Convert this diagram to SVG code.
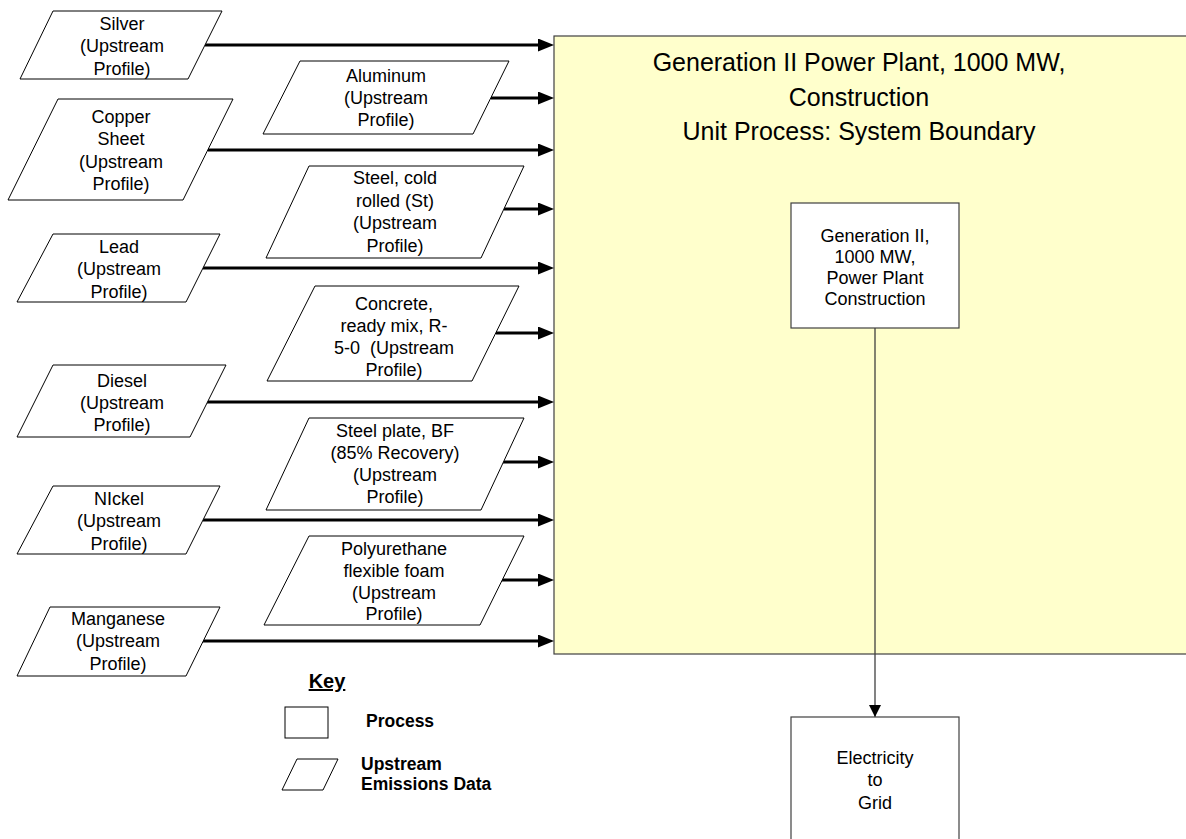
<svg xmlns="http://www.w3.org/2000/svg" width="1186" height="839" viewBox="0 0 1186 839">
<style>
.t{font-family:"Liberation Sans",Arial,sans-serif;font-size:18px;fill:#000;text-anchor:middle}
.title{font-family:"Liberation Sans",Arial,sans-serif;font-size:25px;fill:#000;text-anchor:middle}
.kb{font-family:"Liberation Sans",Arial,sans-serif;font-size:17.5px;font-weight:bold;fill:#000}
.para{fill:#fff;stroke:#000;stroke-width:1}
.box{fill:#fff;stroke:#404040;stroke-width:1.2}
.arr{stroke:#000;stroke-width:3;fill:none;marker-end:url(#ah)}
.thin{stroke:#404040;stroke-width:1.3;fill:none;marker-end:url(#ah2)}
</style>
<defs>
<marker id="ah" viewBox="0 0 16 13" refX="7" refY="6.5" markerWidth="16" markerHeight="13" markerUnits="userSpaceOnUse" orient="auto">
<path d="M0,0 L16,6.5 L0,13 Z" fill="#000"/>
</marker>
<marker id="ah2" viewBox="0 0 12 12" refX="12" refY="6" markerWidth="12" markerHeight="12" markerUnits="userSpaceOnUse" orient="auto">
<path d="M0,0 L12,6 L0,12 Z" fill="#000"/>
</marker>
</defs>
<rect width="1186" height="839" fill="#fff"/>

<g id="boundary">
<rect x="554" y="36" width="640" height="618" fill="#FFFFCC" stroke="#404040" stroke-width="1.2"/>
<text class="title" x="859"><tspan x="859" y="71">Generation II Power Plant, 1000 MW,</tspan><tspan x="859" y="105.5">Construction</tspan><tspan x="859" y="140">Unit Process: System Boundary</tspan></text>
</g>

<g id="connectors">
<line class="arr" x1="205" y1="45" x2="545" y2="45"/>
<line class="arr" x1="491" y1="98" x2="545" y2="98"/>
<line class="arr" x1="208" y1="150" x2="545" y2="150"/>
<line class="arr" x1="504" y1="209" x2="545" y2="209"/>
<line class="arr" x1="203" y1="268" x2="545" y2="268"/>
<line class="arr" x1="496" y1="333" x2="545" y2="333"/>
<line class="arr" x1="207" y1="402" x2="545" y2="402"/>
<line class="arr" x1="503" y1="462" x2="545" y2="462"/>
<line class="arr" x1="203" y1="520" x2="545" y2="520"/>
<line class="arr" x1="502" y1="580" x2="545" y2="580"/>
<line class="arr" x1="203" y1="641" x2="545" y2="641"/>
<line class="thin" x1="875" y1="328" x2="875" y2="717"/>
</g>

<g id="silver">
<polygon class="para" points="53,11 222,11 188,79 20,79"/>
<text class="t"><tspan x="122" y="29.5">Silver</tspan><tspan x="122" y="52">(Upstream</tspan><tspan x="122" y="74.5">Profile)</tspan></text>
</g>
<g id="aluminum">
<polygon class="para" points="300,61 509,61 473,134 263,134"/>
<text class="t"><tspan x="386" y="81.5">Aluminum</tspan><tspan x="386" y="103.5">(Upstream</tspan><tspan x="386" y="125.5">Profile)</tspan></text>
</g>
<g id="copper">
<polygon class="para" points="58,99 233,99 183,200 8,200"/>
<text class="t"><tspan x="121" y="122.5">Copper</tspan><tspan x="121" y="145">Sheet</tspan><tspan x="121" y="167.5">(Upstream</tspan><tspan x="121" y="190">Profile)</tspan></text>
</g>
<g id="steel-cold">
<polygon class="para" points="309,166 524,166 481,258 266,258"/>
<text class="t"><tspan x="395" y="184">Steel, cold</tspan><tspan x="395" y="206.5">rolled (St)</tspan><tspan x="395" y="229">(Upstream</tspan><tspan x="395" y="251.5">Profile)</tspan></text>
</g>
<g id="lead">
<polygon class="para" points="53,234 220,234 186,302 17,302"/>
<text class="t"><tspan x="119" y="252.5">Lead</tspan><tspan x="119" y="275">(Upstream</tspan><tspan x="119" y="297.5">Profile)</tspan></text>
</g>
<g id="concrete">
<polygon class="para" points="315,286 519,286 472,381 267,381"/>
<text class="t" xml:space="preserve"><tspan x="394" y="309.5">Concrete,</tspan><tspan x="394" y="332">ready mix, R-</tspan><tspan x="394" y="354">5-0  (Upstream</tspan><tspan x="394" y="375.5">Profile)</tspan></text>
</g>
<g id="diesel">
<polygon class="para" points="53,365 226,365 190,437 17,437"/>
<text class="t"><tspan x="122" y="386.5">Diesel</tspan><tspan x="122" y="409">(Upstream</tspan><tspan x="122" y="431">Profile)</tspan></text>
</g>
<g id="steel-plate">
<polygon class="para" points="309,418 524,418 481,510 266,510"/>
<text class="t"><tspan x="395" y="436.5">Steel plate, BF</tspan><tspan x="395" y="459">(85% Recovery)</tspan><tspan x="395" y="481">(Upstream</tspan><tspan x="395" y="503">Profile)</tspan></text>
</g>
<g id="nickel">
<polygon class="para" points="53,486 220,486 186,554 17,554"/>
<text class="t"><tspan x="119" y="504.5">NIckel</tspan><tspan x="119" y="527">(Upstream</tspan><tspan x="119" y="549.5">Profile)</tspan></text>
</g>
<g id="polyurethane">
<polygon class="para" points="309,536 524,536 480,625 264,625"/>
<text class="t"><tspan x="394" y="554.5">Polyurethane</tspan><tspan x="394" y="576.5">flexible foam</tspan><tspan x="394" y="598.5">(Upstream</tspan><tspan x="394" y="620">Profile)</tspan></text>
</g>
<g id="manganese">
<polygon class="para" points="50,607 220,607 186,676 17,676"/>
<text class="t"><tspan x="118" y="624.5">Manganese</tspan><tspan x="118" y="647">(Upstream</tspan><tspan x="118" y="669.5">Profile)</tspan></text>
</g>

<g id="process">
<rect class="box" x="791" y="203" width="168" height="125"/>
<text class="t"><tspan x="875" y="241.5">Generation II,</tspan><tspan x="875" y="262.5">1000 MW,</tspan><tspan x="875" y="283.5">Power Plant</tspan><tspan x="875" y="304.5">Construction</tspan></text>
</g>
<g id="electricity">
<rect class="box" x="791" y="717" width="168" height="140"/>
<text class="t"><tspan x="875" y="763.5">Electricity</tspan><tspan x="875" y="786">to</tspan><tspan x="875" y="808.5">Grid</tspan></text>
</g>

<g id="key">
<text x="327" y="688" text-anchor="middle" style="font-family:'Liberation Sans',Arial,sans-serif;font-size:20px;font-weight:bold;text-decoration:underline">Key</text>
<rect x="285" y="707" width="43" height="31" fill="#fff" stroke="#000" stroke-width="1"/>
<text class="kb" x="366" y="727">Process</text>
<polygon points="297,759 338,759 323,790 282,790" fill="#fff" stroke="#000" stroke-width="1"/>
<text class="kb"><tspan x="361" y="770">Upstream</tspan><tspan x="361" y="790">Emissions Data</tspan></text>
</g>
</svg>
